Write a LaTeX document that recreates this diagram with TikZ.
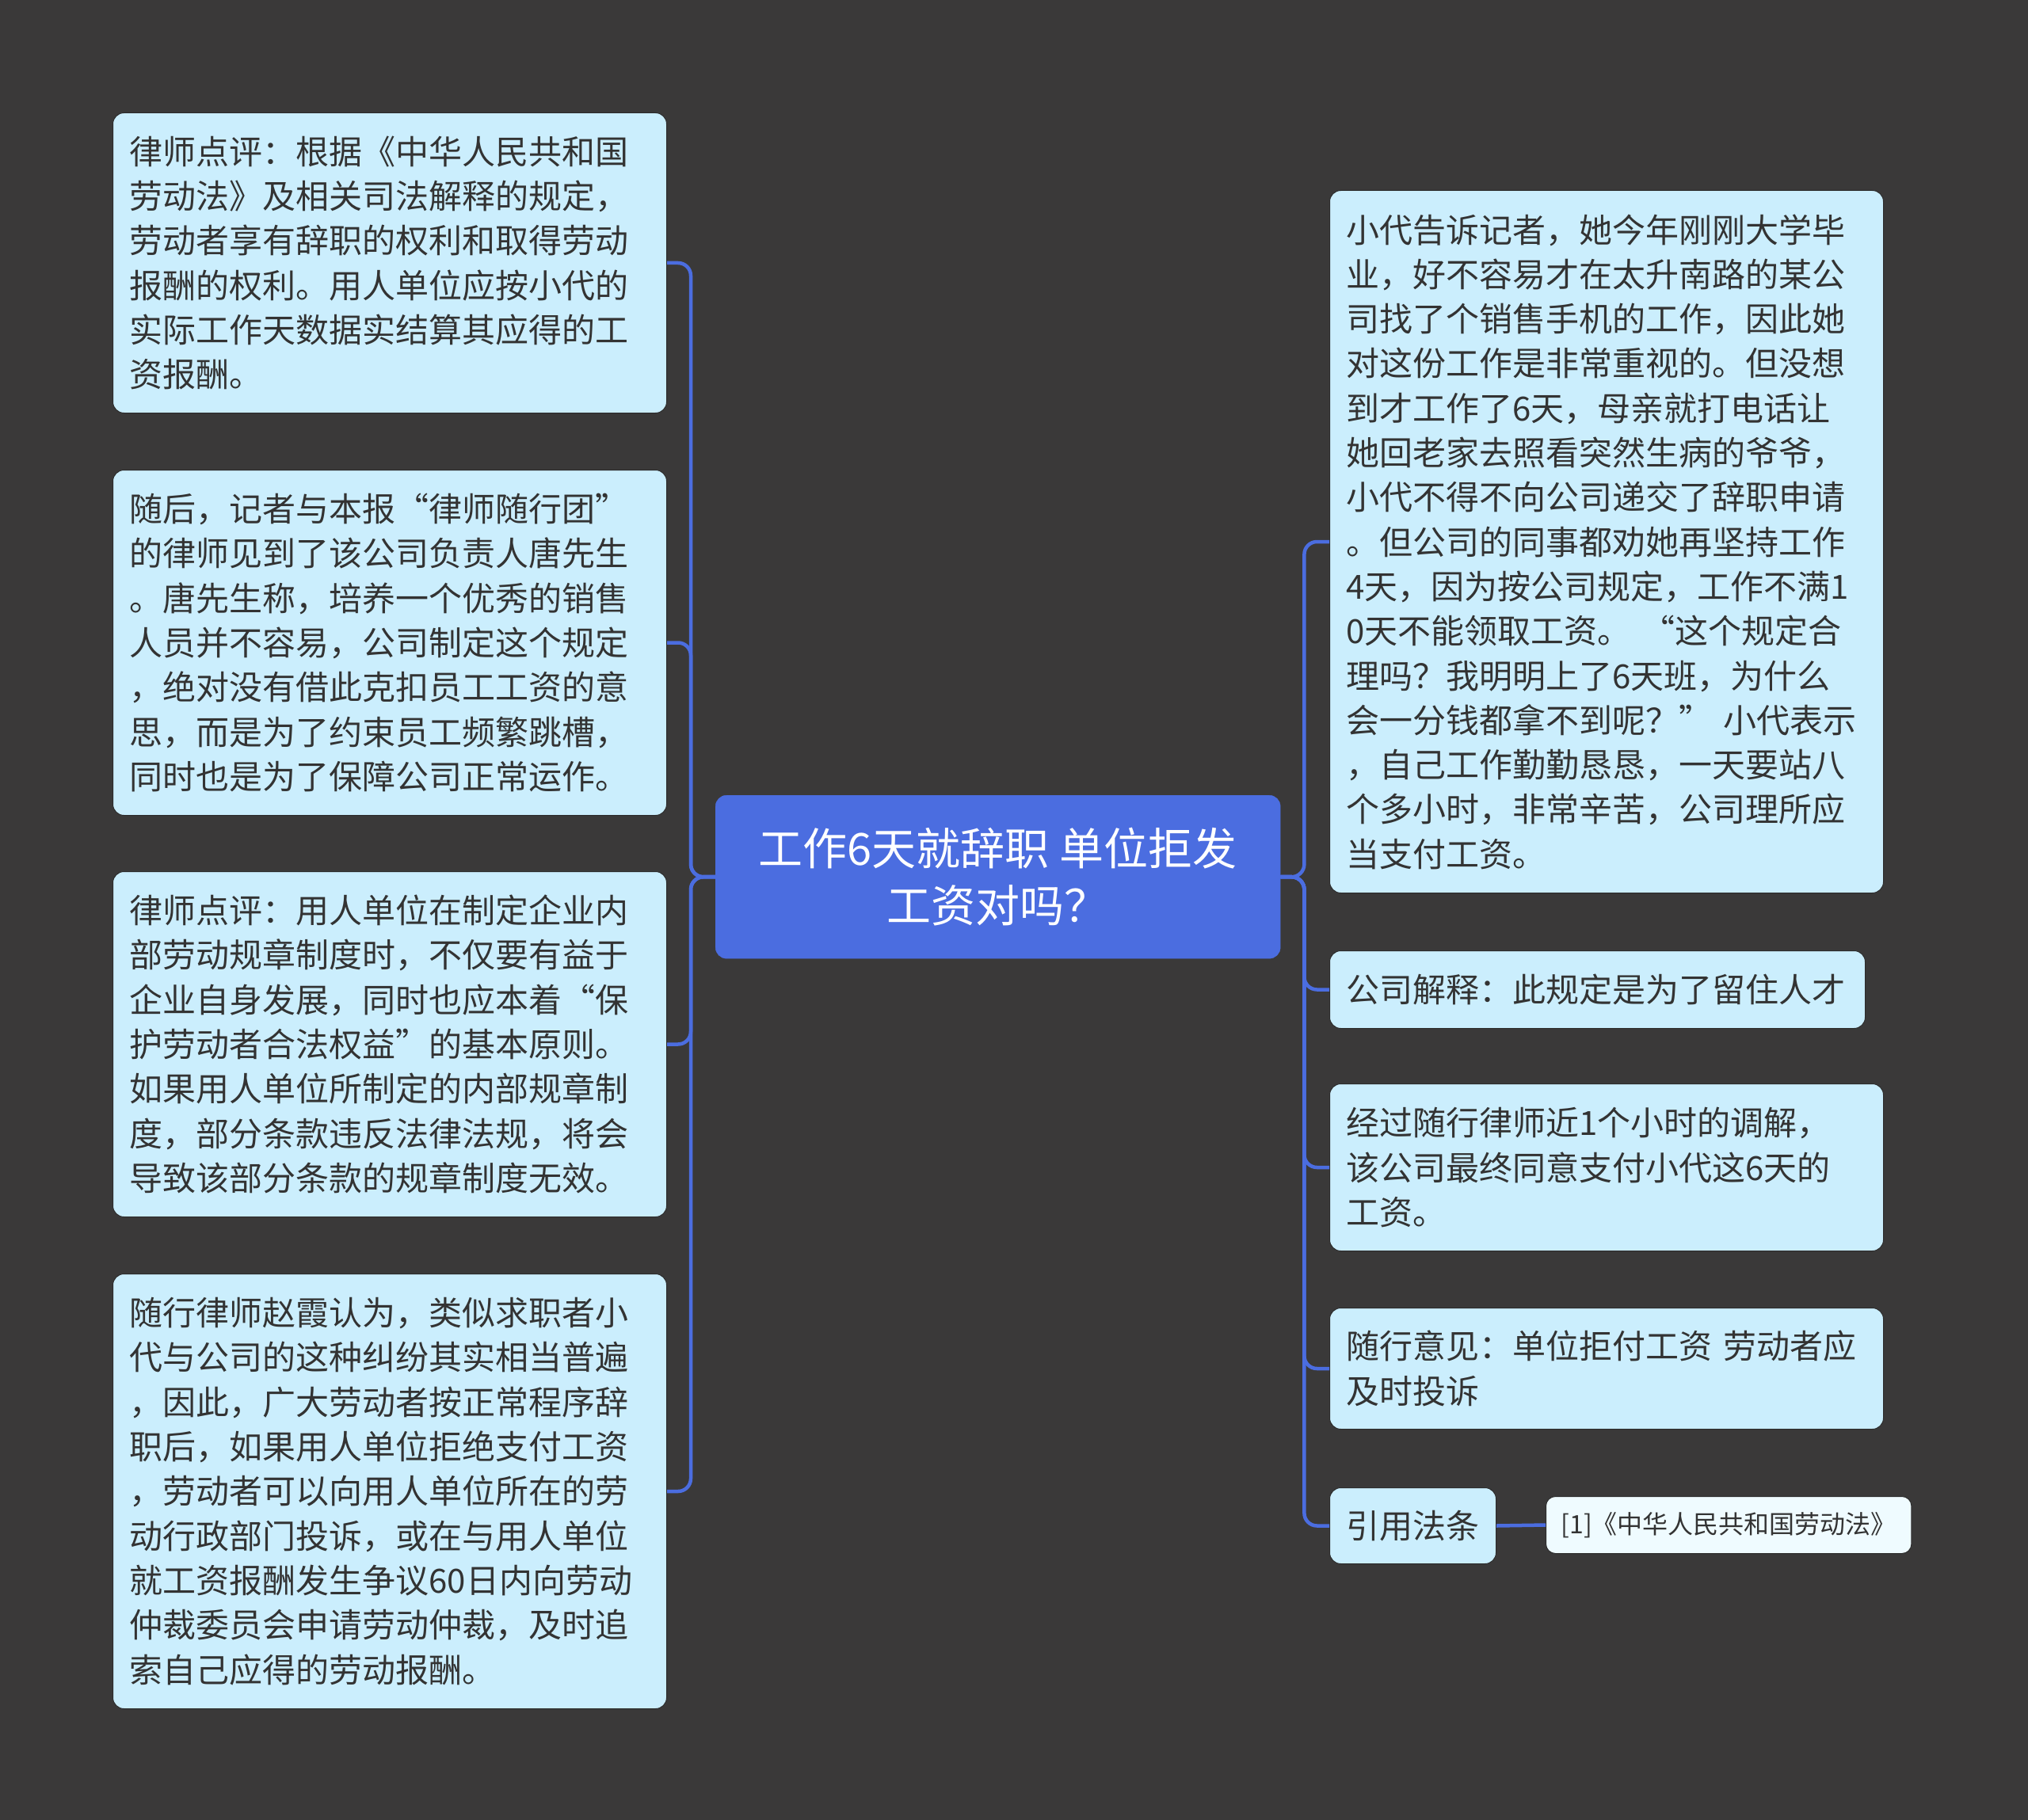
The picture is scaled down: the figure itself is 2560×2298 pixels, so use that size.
\documentclass[tikz,border=0pt]{standalone}
\usepackage{fontspec}
\setmainfont{Noto Sans CJK SC}
\definecolor{bgc}{HTML}{3A3939}
\definecolor{rootc}{HTML}{4B6DE0}
\definecolor{linec}{HTML}{4B6DE0}
\definecolor{boxc}{HTML}{CBEEFD}
\definecolor{boxedge}{HTML}{2C2C2C}
\definecolor{refc}{HTML}{EFFBFF}
\definecolor{txt}{HTML}{333333}
\begin{document}
\begin{tikzpicture}[x=1pt,y=1pt,
  box/.style={anchor=north west, rectangle, rounded corners=14pt, fill=boxc, draw=boxedge,
    line width=1pt, text=txt, inner xsep=21pt, inner ysep=0pt, align=left,
    font=\fontsize{42pt}{56.3pt}\selectfont},
  rootbox/.style={anchor=north west, rectangle, rounded corners=14pt, fill=rootc, draw=rootc,
    text=white, align=center, inner sep=0pt, minimum width=713pt, minimum height=206pt,
    font=\fontsize{56pt}{72pt}\selectfont},
  refbox/.style={anchor=north west, rectangle, rounded corners=12pt, fill=refc, draw=boxedge,
    line width=1pt, text=txt, inner xsep=19pt, inner ysep=0pt, minimum height=72pt,
    font=\fontsize{32pt}{40pt}\selectfont},
  conn/.style={draw=linec, line width=4.5pt, rounded corners=16pt}
]
\fill[bgc] (0,0) rectangle (2560,-2298);
\useasboundingbox (0,0) rectangle (2560,-2298);

\node[rootbox] (root) at (903,-1004) {工作6天就辞职 单位拒发\\工资对吗？};

\node[box, text width=657pt, minimum height=379pt] (L1) at (142,-142) {律师点评：根据《中华人民共和国\\
劳动法》及相关司法解释的规定，\\
劳动者享有辞职的权利和取得劳动\\
报酬的权利。用人单位应按小代的\\
实际工作天数据实结算其应得的工\\
资报酬。};

\node[box, text width=657pt, minimum height=436pt] (L2) at (142,-593) {随后，记者与本报“律师随行团”\\
的律师见到了该公司负责人唐先生\\
。唐先生称，培养一个优秀的销售\\
人员并不容易，公司制定这个规定\\
，绝对没有借此克扣员工工资的意\\
思，而是为了约束员工频繁跳槽，\\
同时也是为了保障公司正常运作。};

\node[box, text width=657pt, minimum height=436pt] (L3) at (142,-1100) {律师点评：用人单位在制定企业内\\
部劳动规章制度时，不仅要有益于\\
企业自身发展，同时也应本着“保\\
护劳动者合法权益”的基本原则。\\
如果用人单位所制定的内部规章制\\
度，部分条款违反法律法规，将会\\
导致该部分条款的规章制度无效。};

\node[box, text width=657pt, minimum height=549pt] (L4) at (142,-1608) {随行律师赵霞认为，类似求职者小\\
代与公司的这种纠纷其实相当普遍\\
，因此，广大劳动者按正常程序辞\\
职后，如果用人单位拒绝支付工资\\
，劳动者可以向用人单位所在的劳\\
动行政部门投诉，或在与用人单位\\
就工资报酬发生争议60日内向劳动\\
仲裁委员会申请劳动仲裁，及时追\\
索自己应得的劳动报酬。};

\node[box, text width=657pt, minimum height=887pt] (R1) at (1678,-240) {小代告诉记者，她今年刚刚大学毕\\
业，好不容易才在太升南路的某公\\
司找了个销售手机的工作，因此她\\
对这份工作是非常重视的。但没想\\
到才工作了6天，母亲就打电话让\\
她回老家去照看突然生病的爷爷，\\
小代不得不向公司递交了辞职申请\\
。但公司的同事都劝她再坚持工作\\
4天，因为按公司规定，工作不满1\\
0天不能领取工资。 “这个规定合\\
理吗？我明明上了6天班，为什么\\
会一分钱都拿不到呢？” 小代表示\\
，自己工作勤勤恳恳，一天要站八\\
个多小时，非常辛苦，公司理所应\\
当支付工资。};

\node[box, text width=634pt, minimum height=98pt] (R2) at (1678,-1200) {公司解释：此规定是为了留住人才};

\node[box, text width=657pt, minimum height=211pt] (R3) at (1678,-1368) {经过随行律师近1个小时的调解，\\
该公司最终同意支付小代这6天的\\
工资。};

\node[box, text width=657pt, minimum height=153pt] (R4) at (1678,-1651) {随行意见：单位拒付工资 劳动者应\\
及时投诉};

\node[box, minimum height=96pt] (R5) at (1678,-1878) {引用法条};

\node[refbox] (R6) at (1951,-1889) {[1]《中华人民共和国劳动法》};

% connectors left
\foreach \c in {L1,L2,L3,L4}{
  \draw[conn] (root.west) -- ++(-31,0) |- (\c.east);
}
% connectors right
\foreach \c in {R1,R2,R3,R4,R5}{
  \draw[conn] (root.east) -- ++(30,0) |- (\c.west);
}
\draw[conn] (R5.east) -- (R6.west);
\end{tikzpicture}
\end{document}
